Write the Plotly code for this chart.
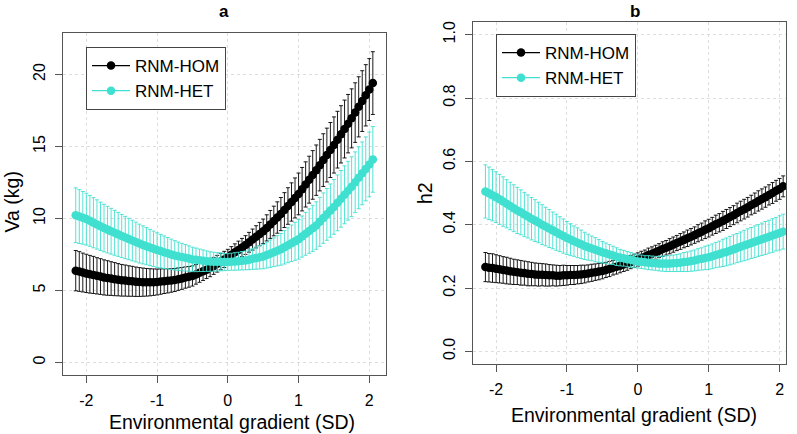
import plotly.graph_objects as go

# ---------------- data ----------------
env_sd = [-2.15, -2.10, -2.05, -2.00, -1.95, -1.90, -1.85, -1.80, -1.75, -1.70,
          -1.65, -1.60, -1.55, -1.50, -1.45, -1.40, -1.35, -1.30, -1.25, -1.20,
          -1.15, -1.10, -1.05, -1.00, -0.95, -0.90, -0.85, -0.80, -0.75, -0.70,
          -0.65, -0.60, -0.55, -0.50, -0.45, -0.40, -0.35, -0.30, -0.25, -0.20,
          -0.15, -0.10, -0.05, 0.00, 0.05, 0.10, 0.15, 0.20, 0.25, 0.30,
          0.35, 0.40, 0.45, 0.50, 0.55, 0.60, 0.65, 0.70, 0.75, 0.80,
          0.85, 0.90, 0.95, 1.00, 1.05, 1.10, 1.15, 1.20, 1.25, 1.30,
          1.35, 1.40, 1.45, 1.50, 1.55, 1.60, 1.65, 1.70, 1.75, 1.80,
          1.85, 1.90, 1.95, 2.00, 2.05]

va_hom = [6.37, 6.31, 6.24, 6.18, 6.12, 6.07, 6.01, 5.96, 5.90, 5.86, 5.82, 5.78, 5.74, 5.70,
          5.68, 5.65, 5.63, 5.60, 5.58, 5.57, 5.56, 5.56, 5.57, 5.58, 5.61, 5.64, 5.66, 5.69,
          5.72, 5.78, 5.83, 5.89, 5.94, 6.00, 6.11, 6.22, 6.33, 6.44, 6.55, 6.70, 6.85, 7.00,
          7.15, 7.30, 7.47, 7.64, 7.81, 7.98, 8.15, 8.34, 8.53, 8.72, 8.91, 9.10, 9.34, 9.58,
          9.82, 10.06, 10.30, 10.58, 10.86, 11.14, 11.42, 11.70, 12.03, 12.36, 12.69, 13.02,
          13.35, 13.70, 14.05, 14.40, 14.75, 15.10, 15.47, 15.84, 16.21, 16.58, 16.95, 17.35,
          17.75, 18.15, 18.55, 18.95, 19.40]
va_hom_se = [1.40, 1.38, 1.35, 1.33, 1.31, 1.29, 1.26, 1.24, 1.22, 1.20, 1.17, 1.15, 1.12, 1.10,
             1.08, 1.06, 1.04, 1.02, 1.00, 0.98, 0.96, 0.94, 0.92, 0.90, 0.88, 0.86, 0.84, 0.82,
             0.80, 0.78, 0.76, 0.74, 0.72, 0.70, 0.68, 0.66, 0.64, 0.62, 0.60, 0.59, 0.58, 0.57,
             0.56, 0.55, 0.57, 0.59, 0.61, 0.63, 0.65, 0.69, 0.73, 0.77, 0.81, 0.85, 0.91, 0.97,
             1.03, 1.09, 1.15, 1.21, 1.27, 1.33, 1.39, 1.45, 1.51, 1.57, 1.63, 1.69, 1.75, 1.79,
             1.83, 1.87, 1.91, 1.95, 1.97, 1.99, 2.01, 2.03, 2.05, 2.07, 2.09, 2.11, 2.13, 2.15,
             2.18]
va_het = [10.22, 10.13, 10.04, 9.95, 9.83, 9.70, 9.58, 9.45, 9.33, 9.22, 9.11, 9.00, 8.89, 8.78,
          8.67, 8.57, 8.46, 8.36, 8.25, 8.16, 8.07, 7.98, 7.89, 7.80, 7.73, 7.65, 7.58, 7.50,
          7.43, 7.37, 7.32, 7.26, 7.21, 7.15, 7.12, 7.09, 7.06, 7.03, 7.00, 6.99, 6.98, 6.98,
          6.97, 6.97, 6.99, 7.01, 7.03, 7.06, 7.08, 7.13, 7.19, 7.24, 7.30, 7.35, 7.45, 7.55,
          7.65, 7.75, 7.85, 7.99, 8.13, 8.27, 8.41, 8.55, 8.74, 8.93, 9.12, 9.31, 9.50, 9.76,
          10.02, 10.28, 10.54, 10.80, 11.08, 11.36, 11.64, 11.92, 12.20, 12.51, 12.82, 13.13,
          13.44, 13.75, 14.10]
va_het_se = [1.90, 1.87, 1.83, 1.80, 1.77, 1.74, 1.71, 1.68, 1.65, 1.62, 1.59, 1.56, 1.53, 1.50,
             1.47, 1.44, 1.41, 1.38, 1.35, 1.32, 1.29, 1.26, 1.23, 1.20, 1.16, 1.13, 1.09, 1.06,
             1.02, 0.99, 0.95, 0.92, 0.88, 0.85, 0.82, 0.78, 0.75, 0.71, 0.68, 0.66, 0.64, 0.62,
             0.60, 0.58, 0.59, 0.61, 0.62, 0.64, 0.65, 0.69, 0.73, 0.77, 0.81, 0.85, 0.90, 0.95,
             1.00, 1.05, 1.10, 1.16, 1.21, 1.27, 1.32, 1.38, 1.43, 1.49, 1.54, 1.60, 1.65, 1.70,
             1.75, 1.80, 1.85, 1.90, 1.94, 1.97, 2.01, 2.04, 2.08, 2.11, 2.15, 2.18, 2.22, 2.25,
             2.28]

h2_hom = [0.266, 0.264, 0.263, 0.261, 0.259, 0.257, 0.255, 0.253, 0.251, 0.250, 0.248, 0.247,
          0.245, 0.244, 0.243, 0.242, 0.242, 0.241, 0.240, 0.240, 0.239, 0.239, 0.240, 0.240,
          0.241, 0.241, 0.242, 0.243, 0.244, 0.246, 0.248, 0.250, 0.252, 0.254, 0.257, 0.260,
          0.264, 0.267, 0.270, 0.274, 0.278, 0.282, 0.286, 0.290, 0.295, 0.299, 0.304, 0.308,
          0.313, 0.318, 0.323, 0.327, 0.332, 0.337, 0.342, 0.347, 0.352, 0.357, 0.362, 0.367,
          0.373, 0.378, 0.384, 0.389, 0.395, 0.401, 0.406, 0.412, 0.418, 0.424, 0.430, 0.437,
          0.443, 0.449, 0.455, 0.462, 0.468, 0.475, 0.481, 0.487, 0.494, 0.500, 0.507, 0.513,
          0.521]
h2_hom_se = [0.046, 0.045, 0.045, 0.044, 0.043, 0.042, 0.042, 0.041, 0.040, 0.039, 0.039, 0.038,
             0.038, 0.037, 0.036, 0.036, 0.035, 0.035, 0.034, 0.033, 0.033, 0.032, 0.032, 0.031,
             0.030, 0.030, 0.029, 0.029, 0.028, 0.027, 0.027, 0.026, 0.026, 0.025, 0.024, 0.024,
             0.023, 0.023, 0.022, 0.022, 0.022, 0.021, 0.021, 0.021, 0.021, 0.021, 0.022, 0.022,
             0.022, 0.022, 0.023, 0.023, 0.024, 0.024, 0.024, 0.025, 0.025, 0.026, 0.026, 0.026,
             0.027, 0.027, 0.028, 0.028, 0.028, 0.029, 0.029, 0.030, 0.030, 0.030, 0.030, 0.031,
             0.031, 0.031, 0.031, 0.031, 0.032, 0.032, 0.032, 0.032, 0.032, 0.033, 0.033, 0.033,
             0.033]
h2_het = [0.505, 0.499, 0.493, 0.487, 0.480, 0.473, 0.466, 0.459, 0.452, 0.445, 0.439, 0.432,
          0.426, 0.419, 0.413, 0.407, 0.400, 0.394, 0.388, 0.382, 0.376, 0.370, 0.364, 0.358,
          0.353, 0.348, 0.343, 0.338, 0.333, 0.329, 0.325, 0.321, 0.317, 0.313, 0.310, 0.306,
          0.303, 0.299, 0.296, 0.294, 0.291, 0.289, 0.286, 0.284, 0.283, 0.281, 0.280, 0.279,
          0.278, 0.277, 0.277, 0.277, 0.277, 0.278, 0.279, 0.280, 0.282, 0.283, 0.285, 0.287,
          0.290, 0.292, 0.295, 0.297, 0.300, 0.304, 0.307, 0.311, 0.314, 0.318, 0.322, 0.326,
          0.330, 0.334, 0.338, 0.342, 0.346, 0.350, 0.354, 0.358, 0.362, 0.366, 0.370, 0.374,
          0.378]
h2_het_se = [0.084, 0.083, 0.081, 0.080, 0.079, 0.078, 0.076, 0.075, 0.074, 0.073, 0.071, 0.070,
             0.068, 0.067, 0.066, 0.064, 0.063, 0.061, 0.060, 0.058, 0.057, 0.055, 0.054, 0.052,
             0.050, 0.048, 0.047, 0.045, 0.043, 0.041, 0.039, 0.038, 0.036, 0.034, 0.032, 0.031,
             0.029, 0.028, 0.026, 0.025, 0.024, 0.023, 0.022, 0.021, 0.021, 0.021, 0.022, 0.022,
             0.022, 0.023, 0.024, 0.025, 0.025, 0.026, 0.027, 0.028, 0.030, 0.031, 0.032, 0.033,
             0.034, 0.035, 0.037, 0.038, 0.039, 0.040, 0.041, 0.043, 0.044, 0.045, 0.046, 0.046,
             0.047, 0.048, 0.049, 0.049, 0.050, 0.050, 0.051, 0.052, 0.052, 0.053, 0.053, 0.054,
             0.055]

series_names = ["RNM-HOM", "RNM-HET"]
x_ticks = [-2, -1, 0, 1, 2]
x_ticktext = ["-2", "-1", "0", "1", "2"]
va_ticks = [0, 5, 10, 15, 20]
h2_ticks = [0.0, 0.2, 0.4, 0.6, 0.8, 1.0]
h2_ticktext = ["0.0", "0.2", "0.4", "0.6", "0.8", "1.0"]

for arr in [va_hom, va_hom_se, va_het, va_het_se, h2_hom, h2_hom_se, h2_het, h2_het_se]:
    assert len(arr) == len(env_sd), len(arr)

# ---------------- styling ----------------
FONT = "Liberation Sans, Arial, Helvetica, sans-serif"
BLACK = "#000000"
TURQ = "#40E0D0"
W, H = 797, 434

fig = go.Figure()


def add_series(y, se, color, name, xa, ya, legend):
    fig.add_trace(go.Scatter(
        x=env_sd, y=y, mode="lines+markers", name=name,
        line=dict(color=color, width=1.2),
        marker=dict(color=color, size=8.5, line=dict(width=0)),
        error_y=dict(type="data", array=se, visible=True, color=color,
                     thickness=0.9, width=2),
        xaxis=xa, yaxis=ya, legend=legend, hoverinfo="skip"))


add_series(va_hom, va_hom_se, BLACK, series_names[0], "x", "y", "legend")
add_series(va_het, va_het_se, TURQ, series_names[1], "x", "y", "legend")
add_series(h2_hom, h2_hom_se, BLACK, series_names[0], "x2", "y2", "legend2")
add_series(h2_het, h2_het_se, TURQ, series_names[1], "x2", "y2", "legend2")

axis_common = dict(
    showline=True, mirror=True, linecolor="#555555", linewidth=1,
    ticks="outside", ticklen=7, tickcolor="#555555", tickwidth=1,
    showgrid=True, gridcolor="#dddddd", griddash="dot", gridwidth=1,
    zeroline=False, tickfont=dict(family=FONT, size=16, color="#000000"),
    ticklabelstandoff=4,
)

legend_common = dict(xanchor="left", yanchor="top", bordercolor="#444444", borderwidth=1,
                     bgcolor="white", font=dict(family=FONT, size=17, color="#000000"),
                     tracegroupgap=0, itemwidth=38)

fig.update_layout(
    width=W, height=H,
    margin=dict(l=0, r=0, t=0, b=0),
    paper_bgcolor="white", plot_bgcolor="white",
    font=dict(family=FONT, color="#000000"),
    xaxis=dict(domain=[63 / W, 386 / W], range=[-2.33, 2.236], anchor="y",
               tickvals=x_ticks, ticktext=x_ticktext, **axis_common),
    yaxis=dict(domain=[1 - 375 / H, 1 - 33 / H], range=[-0.88, 22.88], anchor="x",
               tickvals=va_ticks, tickangle=-90, **axis_common),
    xaxis2=dict(domain=[473 / W, 786 / W], range=[-2.325, 2.09], anchor="y2",
                tickvals=x_ticks, ticktext=x_ticktext, **axis_common),
    yaxis2=dict(domain=[1 - 364 / H, 1 - 22 / H], range=[-0.04, 1.04], anchor="x2",
                tickvals=h2_ticks, ticktext=h2_ticktext, tickangle=-90, **axis_common),
    legend=dict(x=86 / W, y=1 - 47 / H, **legend_common),
    legend2=dict(x=496 / W, y=1 - 34 / H, **legend_common),
)

ann = [
    dict(text="<b>a</b>", x=224 / W, y=1.0, yanchor="top", font=dict(size=17)),
    dict(text="<b>b</b>", x=635 / W, y=1.0, yanchor="top", font=dict(size=17)),
    dict(text="Environmental gradient (SD)", x=231.7 / W, y=1 - 422 / H, yanchor="middle",
         font=dict(size=19.5)),
    dict(text="Environmental gradient (SD)", x=633.5 / W, y=1 - 415 / H, yanchor="middle",
         font=dict(size=19.5)),
    dict(text="Va (kg)", x=11 / W, y=1 - 202.5 / H, yanchor="middle", textangle=-90,
         font=dict(size=19.5)),
    dict(text="h2", x=425 / W, y=1 - 193 / H, yanchor="middle", textangle=-90,
         font=dict(size=19.5)),
]
for a in ann:
    fig.add_annotation(xref="paper", yref="paper", showarrow=False,
                       xanchor="center",
                       **{k: v for k, v in a.items() if k != "font"},
                       font=dict(family=FONT, color="#000000", **a["font"]))

fig.write_html("out.html", config={"displayModeBar": False},
               post_script="document.body.style.margin='0';document.body.style.overflow='hidden';")
